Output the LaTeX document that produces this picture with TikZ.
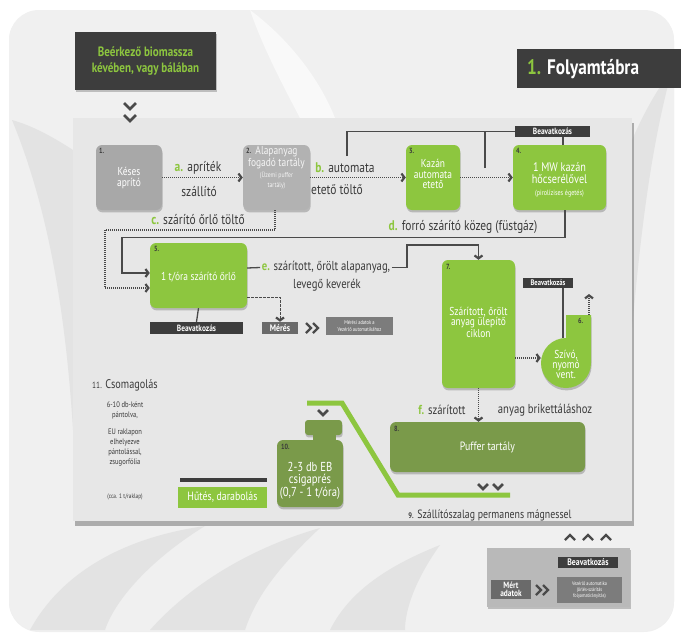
\documentclass[tikz,border=0pt]{standalone}
\usepackage{fontspec}
\setmainfont[FakeStretch=0.82]{PT Sans}
\usetikzlibrary{arrows.meta,shadows}
\definecolor{dark}{HTML}{3D3D3D}
\definecolor{lgreen}{HTML}{8DC63F}
\definecolor{dgreen}{HTML}{7A9A4A}
\definecolor{gboxa}{HTML}{A8A8A8}
\definecolor{gboxb}{HTML}{B2B2B2}
\definecolor{panel}{HTML}{E7E7E7}
\definecolor{bg}{HTML}{F0F0F0}
\definecolor{leaf}{HTML}{E3E3E3}
\definecolor{linec}{HTML}{4A4A4A}
\definecolor{midgray}{HTML}{6A6A6A}
\definecolor{lightgray}{HTML}{7C7C7C}
\definecolor{ctrlgray}{HTML}{B9B9B9}
\definecolor{txt}{HTML}{3A3A3A}
\newcommand\fz[2]{\fontsize{#1}{#2}\selectfont}
\tikzset{
  shad/.style={drop shadow={shadow xshift=0.6pt, shadow yshift=-2.4pt, opacity=0.45}},
  procbox/.style={rounded corners=6pt, inner sep=0pt, align=center, text=white, shad},
  graybox/.style={procbox, fill=gboxa},
  greenbox/.style={procbox, fill=lgreen},
  dgreenbox/.style={procbox, fill=dgreen},
  darklabel/.style={fill=dark, text=white, inner sep=0pt, font=\bfseries\fz{9}{9}},
  boxnum/.style={anchor=north west, inner sep=0pt, text=txt, font=\bfseries\fz{7.5}{8}},
  boxtext/.style={align=center, text=white, inner sep=0pt},
  lbl/.style={text=txt, inner sep=1.5pt, font=\fz{14}{15}},
  flow/.style={draw=linec, line width=1.3pt},
  dots/.style={draw=linec, line width=1.4pt, dash pattern=on 0.9pt off 1.1pt},
  dashes/.style={draw=linec, line width=1pt, dash pattern=on 2.5pt off 1.5pt},
  chv/.style={-{Straight Barb[length=3pt,width=8pt,line width=2.2pt]}},
  chevron/.style={draw=linec, line width=2.6pt},
  leafy/.style={fill=leaf}
}
\begin{document}
\begin{tikzpicture}[x=1pt,y=-1pt]
\useasboundingbox (0,0) rectangle (681,635);
\fill[white] (0,0) rectangle (681,635);
% background frame
\path[fill=bg, rounded corners=30pt, drop shadow={shadow xshift=0pt, shadow yshift=-1pt, opacity=0.12}] (9,10) rectangle (674,631);
% decorative leaves
\path[leafy] (30,630) .. controls (60,575) and (120,538) .. (205,526) .. controls (150,560) and (115,600) .. (105,630) -- cycle;
\path[leafy] (150,630) .. controls (190,585) and (250,548) .. (320,528) .. controls (275,570) and (255,600) .. (245,630) -- cycle;
\path[leafy] (330,630) .. controls (350,590) and (390,565) .. (440,545) .. controls (415,580) and (405,610) .. (405,630) -- cycle;
\path[leafy] (12,120) .. controls (45,200) and (65,300) .. (73,430) -- (73,150) .. controls (50,135) and (30,125) .. (12,120) -- cycle;
\path[leafy] (672,70) .. controls (650,150) and (640,240) .. (632,330) -- (632,140) .. controls (645,110) and (660,85) .. (672,70) -- cycle;
\path[fill=white, opacity=0.6] (250,10) .. controls (290,40) and (320,80) .. (335,118) -- (300,118) .. controls (280,80) and (262,45) .. (250,10) -- cycle;
% main panel
\path[fill=panel, drop shadow={shadow xshift=2pt, shadow yshift=-4.5pt, opacity=0.6}] (73,118) rectangle (632,521);

% intake box
\node[fill=dark, shad, minimum width=141pt, minimum height=58pt, align=center, text=lgreen,
  font=\bfseries\fz{13.5}{15.5}] (intake) at (145.5,61) {Beérkező biomassza\\kévében, vagy bálában};
% title
\node[fill=dark, minimum width=164pt, minimum height=39pt, inner sep=0pt, anchor=west] (title) at (517,68) {};
\node[anchor=west, inner sep=0pt, text=white, font=\bfseries\fz{21}{22}] (titletxt) at (527,69) {\textcolor{lgreen}{1.} Folyamtábra};

% chevrons under intake
\draw[chevron] (124,103) -- (130,109) -- (136,103);
\draw[chevron] (124,115) -- (130,121) -- (136,115);

% row 1 boxes
\node[graybox, minimum width=66pt, minimum height=65pt] (b1) at (129,177.5) {};
\node[boxtext, font=\fz{11.5}{11}] (t1) at (129,178) {Késes\\aprító};
\node[boxnum] (n1) at (99,148) {1.};

\node[procbox, fill=gboxb, minimum width=67pt, minimum height=65pt] (b2) at (276.5,177.5) {};
\node[boxtext, text=white!92!gray, font=\fz{11.5}{10.5}] (t2) at (276.5,168) {Alapanyag\\fogadó tartály\\\fz{7}{8.5}(Üzemi puffer\\\fz{7}{8.5}tartály)};
\node[boxnum] (n2) at (246,148) {2.};

\node[greenbox, minimum width=54pt, minimum height=65pt] (b3) at (433,177.5) {};
\node[boxtext, font=\fz{11.5}{10.5}] (t3) at (433,174) {Kazán\\automata\\etető};
\node[boxnum] (n3) at (409,148) {3.};

\node[greenbox, minimum width=93pt, minimum height=65pt] (b4) at (559.5,177.5) {};
\node[boxtext, font=\fz{12.5}{12}] (t4) at (559.5,180) {1 MW kazán\\hőcserélővel\\\fz{7.5}{9}(pirolízises égetés)};
\node[boxnum] (n4) at (516,148) {4.};

\node[darklabel, minimum width=75pt, minimum height=11pt] (bv4) at (552.5,131.5) {Beavatkozás};
\coordinate (j1) at (347,156);
\coordinate (j2) at (485,168);
\draw[flow] (j1) |- (bv4.west);
\draw[flow] (j2) -- (j2 |- bv4.west);
\draw[flow] ([xshift=10.5pt]bv4.south) -- ([xshift=3.5pt]b4.north);

% a, b arrows
\draw[dots, chv] (b1.east) -- (b2.west);
\node[lbl] (ta) at (198,168) {\textcolor{lgreen}{\bfseries a.} apríték};
\node[lbl] (ta2) at (199,192) {szállító};
\draw[dots, chv] (b2.east) -- (b3.west);
\node[lbl] (tb) at (345,168) {\textcolor{lgreen}{\bfseries b.} automata};
\node[lbl] (tb2) at (337,190) {etető töltő};
\draw[dots, chv] (b3.east) -- (b4.west);

% box 5
\node[greenbox, minimum width=97pt, minimum height=65pt] (b5) at (198.5,275.5) {};
\node[boxtext, font=\fz{11.5}{11}] (t5) at (198.5,277) {1 t/óra szárító őrlő};
\node[boxnum] (n5) at (154,246) {5.};

% c and d lines
\coordinate (ccorner) at (105,230);
\coordinate (dcorner) at (122,237.5);
\draw[dots, chv] ([xshift=-1.5pt]b2.south) |- (ccorner) |- ([yshift=-12.5pt]b5.west);
\draw[flow, chv] ([xshift=5.5pt]b4.south) |- (dcorner) |- ([yshift=2.5pt]b5.west);
\node[lbl] (tc) at (198,220) {\textcolor{lgreen}{\bfseries c.} szárító őrlő töltő};
\node[lbl] (td) at (463,227) {\textcolor{lgreen}{\bfseries d.} forró szárító közeg (füstgáz)};

% box 7
\node[greenbox, minimum width=73pt, minimum height=128pt] (b7) at (478.5,324) {};
\node[boxtext, font=\fz{11.5}{10.5}] (t7) at (478.5,322) {Szárított, őrölt\\anyag ülepítő\\ciklon};
\node[boxnum] (n7) at (446,264) {7.};

% e line
\node[lbl, font=\fz{13}{14}] (te) at (326,267.5) {\textcolor{lgreen}{\bfseries e.} szárított, őrölt alapanyag,};
\node[lbl, font=\fz{13}{14}] (te2) at (327,285) {levegő keverék};
\coordinate (eup) at (407,245);
\draw[flow] ([yshift=7.5pt]b5.east) -- (te.west);
\draw[flow, chv] (te.east) -| (eup) -| (b7.north);

% measurement
\node[darklabel, minimum width=93pt, minimum height=12pt] (bv5) at (196.5,328) {Beavatkozás};
\draw[flow] (b5.south) -- (bv5.north);
\node[fill=midgray, text=white, inner sep=0pt, minimum width=36pt, minimum height=12pt, font=\bfseries\fz{9.5}{9}] (meres) at (280,328) {Mérés};
\draw[dashes, chv] ([yshift=-21.5pt]b5.east) -| (meres.north);
\draw[chevron, line width=2.4pt] (306,323) -- (311,328) -- (306,333);
\draw[chevron, line width=2.4pt] (313,323) -- (318,328) -- (313,333);
\node[fill=lightgray, text=white, inner sep=0pt, minimum width=67pt, minimum height=18pt, align=center, font=\fz{5.5}{6.5}] (mdata) at (359.5,326) {Mérési adatok a\\Vezérlő automatikához};

% box 6 (fan)
\path[fill=lgreen, shad] (566,315) -- (591,315) -- (591,363) arc[start angle=0, end angle=-270, radius=25pt] -- cycle;
\node[circle, minimum size=50pt, inner sep=0pt, align=center, text=white, font=\fz{11.5}{10}] (b6) at (566,364) {Szívó,\\nyomó\\vent.};
\node[boxnum] (n6) at (578,318) {6.};
\draw[dots, chv] ([yshift=-34pt]b7.east) -- ([yshift=-34pt]b7.east -| b6.west);
\node[darklabel, minimum width=50pt, minimum height=10pt, font=\bfseries\fz{8}{8}] (bv6) at (548,283) {Beavatkozás};
\draw[flow] ([xshift=15pt]bv6.south) -- ++(0,50);
\coordinate (tabtop) at (589,315);
\draw[dots, chv] (tabtop) -- ++(0,-21);

% f arrow and box 8
\node[dgreenbox, minimum width=195pt, minimum height=50pt, font=\fz{12}{12}] (b8) at (487.5,447) {Puffer tartály};
\node[boxnum] (n8) at (394,426) {8.};
\draw[dots, chv] (b7.south) -- (b7.south |- b8.north);
\node[lbl, font=\fz{13}{14}] (tf) at (442,410) {\textcolor{lgreen}{\bfseries f.} szárított};
\node[lbl, font=\fz{13}{14}] (tf2) at (545,410) {anyag brikettáláshoz};
\draw[chevron] (478,484) -- (483,489) -- (488,484);
\draw[chevron] (493,484) -- (498,489) -- (503,484);

% conveyor
\coordinate (cv1) at (307,403);
\coordinate (cv2) at (342,403);
\coordinate (cv3) at (398,495);
\coordinate (cv4) at (510,495);
\draw[lgreen, line width=5pt] (cv1) -- (cv2) -- (cv3) -- (cv4);
\node[text=txt, inner sep=0pt, font=\fz{12}{12}] (t9) at (490,515) {{\bfseries\fz{8}{8}9.} Szállítószalag permanens mágnessel};

% box 10
\draw[chevron] (318,410) -- (323,415) -- (328,410);
\node[procbox, fill=dgreen, rounded corners=3pt, minimum width=37pt, minimum height=15pt] (b10top) at (323.5,427.5) {};
\fill[dgreen] (313,433) rectangle (336,442);
\node[dgreenbox, minimum width=66pt, minimum height=67pt] (b10) at (310,473.5) {};
\node[boxtext, font=\fz{13}{12.5}] (t10) at (310,480.5) {2-3 db EB\\csigaprés\\(0,7 - 1 t/óra)};
\node[boxnum] (n10) at (281,444) {10.};

% cooling
\node[fill=dark, minimum width=87pt, minimum height=4pt, inner sep=0pt] (hbar) at (223.5,480) {};
\node[fill=lgreen, text=white, minimum width=89pt, minimum height=21pt, inner sep=0pt, font=\fz{12}{12}] (hutes) at (222.5,497.5) {Hűtés, darabolás};

% packaging text
\node[text=txt, inner sep=0pt, font=\fz{12.5}{12}] (t11) at (125,385) {{\fz{9}{9}11.} Csomagolás};
\node[text=txt, inner sep=0pt, align=center, font=\fz{8}{10}] (t11a) at (125,410) {6-10 db-ként\\pántolva,};
\node[text=txt, inner sep=0pt, align=center, font=\fz{8}{10}] (t11b) at (125,448) {EU raklapon\\elhelyezve\\pántolással,\\zsugorfólia};
\node[text=txt, inner sep=0pt, font=\fz{6.5}{7}] (t11c) at (125,497) {(cca. 1 t/raklap)};

% control box
\draw[chevron, line width=2.4pt] (565,540) -- (570,535) -- (575,540);
\draw[chevron, line width=2.4pt] (583,540) -- (588,535) -- (593,540);
\draw[chevron, line width=2.4pt] (601,540) -- (606,535) -- (611,540);
\node[fill=ctrlgray, shad, minimum width=143pt, minimum height=59pt, inner sep=0pt] (ctrl) at (558.5,577.5) {};
\node[darklabel, minimum width=60pt, minimum height=11pt, font=\bfseries\fz{9.5}{9}] (bv7) at (588,562.5) {Beavatkozás};
\node[fill=midgray, text=white, inner sep=0pt, minimum width=40pt, minimum height=19pt, align=center, font=\bfseries\fz{9}{8}] (mert) at (511,589.5) {Mért\\adatok};
\draw[chevron, line width=2.4pt] (536,585) -- (541,590) -- (536,595);
\draw[chevron, line width=2.4pt] (543,585) -- (548,590) -- (543,595);
\node[fill=lightgray, text=white, inner sep=0pt, minimum width=65pt, minimum height=26pt, align=center, font=\fz{5.2}{6}] (vez) at (589.5,590) {Vezérlő automatika\\(őrlés-szárítás\\folyamatirányítás)};
\end{tikzpicture}
\end{document}
